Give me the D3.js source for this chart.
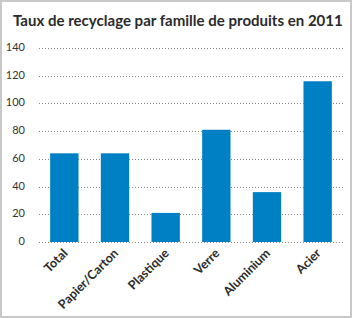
<!DOCTYPE html>
<html>
<head>
<meta charset="utf-8">
<script src="https://cdn.jsdelivr.net/npm/d3@7"></script>
<style>
  html, body { margin: 0; padding: 0; background: #fff; }
  svg { display: block; }
</style>
</head>
<body>
<div id="chart"></div>
<script>
/* Taux de recyclage par famille de produits en 2011 — simple bar chart */
var categories = ['Total', 'Papier/Carton', 'Plastique', 'Verre', 'Aluminium', 'Acier'];
var values = [64, 64, 21, 81, 36, 116];
var yTicks = [0, 20, 40, 60, 80, 100, 120, 140];
var title = 'Taux de recyclage par famille de produits en 2011';

(function () {
  'use strict';
  var W = 352, H = 318;
  var margin = { top: 48, left: 39, right: 9, bottom: 76 };
  var innerW = W - margin.left - margin.right;
  var innerH = H - margin.top - margin.bottom;
  var font = 'Lato, "Open Sans", sans-serif';

  var svg = d3.select('#chart').append('svg').attr('width', W).attr('height', H);

  /* frame */
  svg.append('rect').attr('x', 1).attr('y', 1).attr('width', W - 2).attr('height', H - 2)
    .attr('fill', '#fff').attr('stroke', '#c8c8c8').attr('stroke-width', 2);

  var t = svg.append('text').attr('x', 13).attr('y', 26)
    .style('font-family', font).style('font-weight', 'bold')
    .style('font-size', '15.5px').style('fill', '#2b2b2b').text(title);
  /* shrink the title so it spans the same width as the original */
  var tw = t.node().getComputedTextLength();
  if (tw > 330) t.style('font-size', (15.5 * 330 / tw).toFixed(2) + 'px');

  var g = svg.append('g').attr('transform', 'translate(' + margin.left + ',' + margin.top + ')');

  var x = d3.scaleBand().domain(categories).range([0, innerW]).paddingInner(0.44).paddingOuter(0.22);
  var y = d3.scaleLinear().domain([0, 140]).range([innerH, 0]);

  /* dotted grid */
  g.selectAll('line.grid').data(yTicks).enter().append('line')
    .attr('class', 'grid')
    .attr('x1', 0).attr('x2', innerW)
    .attr('y1', function (d) { return Math.round(y(d)) + 0.5; })
    .attr('y2', function (d) { return Math.round(y(d)) + 0.5; })
    .attr('stroke', '#8a8a8a').attr('stroke-width', 1).attr('stroke-dasharray', '1,2');

  g.selectAll('text.ytick').data(yTicks).enter().append('text')
    .attr('class', 'ytick')
    .attr('x', -14).attr('y', function (d) { return y(d) + 3; })
    .attr('text-anchor', 'end')
    .style('font-family', font).style('font-size', '11px')
    .style('fill', '#333').text(function (d) { return d; });

  /* bars */
  g.selectAll('rect.bar').data(values).enter().append('rect')
    .attr('class', 'bar')
    .attr('x', function (d, i) { return x(categories[i]); })
    .attr('width', x.bandwidth())
    .attr('y', function (d) { return y(d); })
    .attr('height', function (d) { return innerH - y(d); })
    .attr('fill', '#0080c4');

  /* rotated category labels */
  g.selectAll('text.xlab').data(categories).enter().append('text')
    .attr('class', 'xlab')
    .attr('transform', function (d) {
      return 'translate(' + (x(d) + x.bandwidth() / 2 + 4) + ',' + (innerH + 12) + ') rotate(-45)';
    })
    .attr('text-anchor', 'end')
    .style('font-family', font).style('font-weight', 'bold')
    .style('font-size', '12.5px').style('fill', '#2b2b2b').text(function (d) { return d; });
})();
</script>
</body>
</html>
